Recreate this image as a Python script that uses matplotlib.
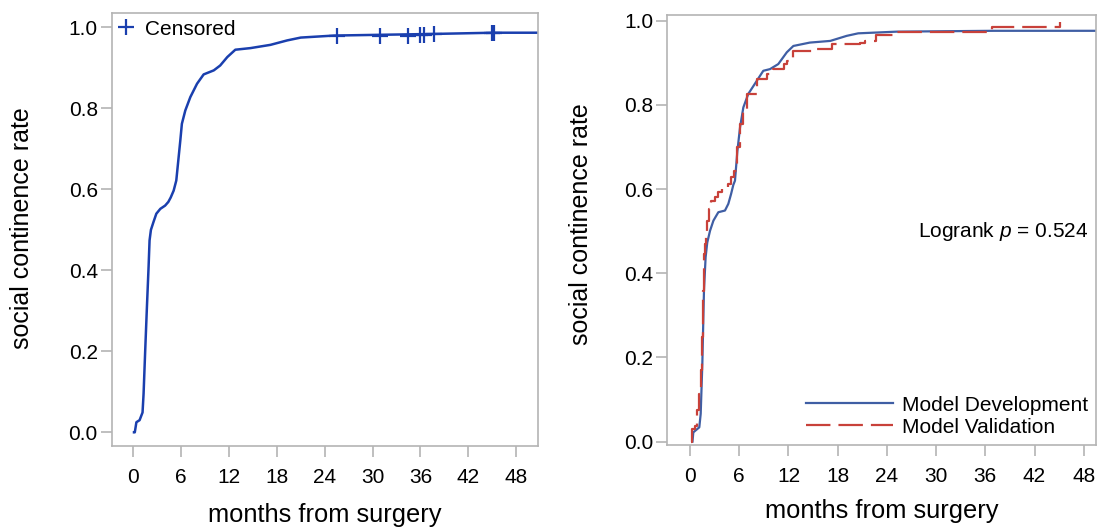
import matplotlib
matplotlib.use("Agg")
import matplotlib.pyplot as plt
from matplotlib.lines import Line2D

plt.rcParams['font.family'] = ['Liberation Sans', 'DejaVu Sans']
plt.rcParams['mathtext.fontset'] = 'custom'
plt.rcParams['mathtext.rm'] = 'Liberation Sans'
plt.rcParams['mathtext.it'] = 'Liberation Sans:italic'

# left panel: overall curve (months, rate)
all_t = [0.1, 0.2, 0.4, 0.8, 1.17, 1.3, 1.5, 1.72, 1.93, 2.05, 2.22, 2.55, 2.9, 3.4, 4.0,
         4.4, 4.7, 5.07, 5.4, 5.9, 6.1, 6.53, 7.16, 8.0, 8.83, 10.1, 10.9, 11.8, 12.8,
         14.7, 17.2, 19.3, 21.0, 25.2, 37.7, 45.2, 51.0]
all_y = [0.0, 0.0, 0.025, 0.03, 0.049, 0.095, 0.2, 0.31, 0.41, 0.474, 0.5, 0.52, 0.54,
         0.552, 0.56, 0.569, 0.58, 0.597, 0.622, 0.72, 0.762, 0.795, 0.828, 0.861, 0.884,
         0.894, 0.906, 0.927, 0.945, 0.949, 0.957, 0.968, 0.975, 0.98, 0.984, 0.987, 0.987]
cens_t = [25.5, 30.9, 34.5, 35.9, 36.5, 37.7, 45.0, 45.2]
cens_y = [0.98, 0.98, 0.98, 0.981, 0.982, 0.984, 0.986, 0.987]

# right panel
dev_t = [0.3, 0.4, 1.13, 1.3, 1.5, 1.7, 1.9, 2.1, 2.44, 2.85, 3.45, 4.26, 4.67, 5.0, 5.28,
         5.48, 5.77, 6.1, 6.5, 7.1, 7.9, 8.93, 9.75, 10.76, 11.8, 12.6, 14.6, 17.1, 19.1,
         20.5, 25.2, 37.0, 50.0]
dev_y = [0.0, 0.022, 0.034, 0.066, 0.185, 0.359, 0.438, 0.473, 0.501, 0.525, 0.545, 0.549,
         0.565, 0.588, 0.61, 0.62, 0.69, 0.747, 0.794, 0.826, 0.85, 0.881, 0.885, 0.897,
         0.925, 0.94, 0.948, 0.952, 0.964, 0.97, 0.974, 0.976, 0.976]
val_t = [0.08, 0.28, 0.6, 0.9, 1.13, 1.3, 1.4, 1.5, 1.55, 1.62, 1.68, 1.75, 1.8, 1.9, 2.03,
         2.35, 2.52, 3.05, 3.45, 3.86, 4.67, 5.0, 5.36, 5.69, 6.1, 6.5, 6.9, 8.12, 9.34,
         10.15, 11.4, 11.8, 12.5, 15.4, 17.3, 20.7, 21.3, 22.7, 24.8, 36.8, 45.1]
val_y = [0.0, 0.03, 0.038, 0.074, 0.113, 0.169, 0.2, 0.248, 0.29, 0.359, 0.40, 0.446, 0.47,
         0.5, 0.525, 0.553, 0.572, 0.58, 0.592, 0.6, 0.612, 0.628, 0.644, 0.699, 0.755,
         0.79, 0.826, 0.861, 0.873, 0.885, 0.897, 0.905, 0.929, 0.933, 0.944, 0.948, 0.952,
         0.966, 0.972, 0.984, 0.997]

xticks = [0, 6, 12, 18, 24, 30, 36, 42, 48]
yticks = [0.0, 0.2, 0.4, 0.6, 0.8, 1.0]
gray = '#b4b4b4'

fig = plt.figure(figsize=(10.99, 5.29), dpi=100)
ax1 = fig.add_axes([0.1016, 0.1575, 0.3877, 0.8174])
ax2 = fig.add_axes([0.6072, 0.1588, 0.3901, 0.8128])

for ax in (ax1, ax2):
    for s in ax.spines.values():
        s.set_color(gray)
        s.set_linewidth(1.2)
    ax.set_xticks(xticks)
    ax.set_yticks(yticks)
    ax.set_yticklabels(['%.1f' % v for v in yticks])
    ax.tick_params(axis='both', colors=gray, labelcolor='black', labelsize=15,
                   length=8, width=1.2)
    ax.tick_params(axis='x', pad=8)
    ax.tick_params(axis='y', pad=2)
    ax.set_xlabel('months from surgery', fontsize=18.4)
    ax.set_ylabel('social continence rate', fontsize=18)

ax1.plot(all_t, all_y, color='#1a3fae', lw=1.8)
ax1.plot(cens_t, cens_y, '+', color='#1a3fae', ms=11, mew=1.6)
ax1.set_xlim(-2.7, 50.7)
ax1.set_ylim(-0.033, 1.035)
h = Line2D([], [], marker='+', ls='none', color='#1a3fae', ms=11, mew=1.6)
ax1.legend(handles=[h], labels=['Censored'], loc='upper left', frameon=False,
           fontsize=15, handlelength=0.8, handletextpad=0.5, borderaxespad=0.1,
           borderpad=0.2)
ax1.xaxis.set_label_coords(0.5, -0.133)
ax1.yaxis.set_label_coords(-0.183, 0.502)

ax2.plot(dev_t, dev_y, color='#3f5ea4', lw=1.6, label='Model Development')
ax2.step(val_t, val_y, where='post', color='#c8413a', lw=1.6, dashes=(11, 3.6),
         label='Model Validation')
ax2.set_xlim(-2.77, 49.5)
ax2.set_ylim(-0.008, 1.0135)
ax2.text(0.981, 0.5, 'Logrank $p$ = 0.524', transform=ax2.get_yaxis_transform(),
         ha='right', va='center', fontsize=15)
ax2.legend(loc='lower right', frameon=False, fontsize=15, handlelength=4.2,
           handletextpad=0.4, labelspacing=0.15, borderaxespad=0.2, borderpad=0.2)
ax2.xaxis.set_label_coords(0.5, -0.126)
ax2.yaxis.set_label_coords(-0.174, 0.513)

fig.savefig('out.png', dpi=100)
